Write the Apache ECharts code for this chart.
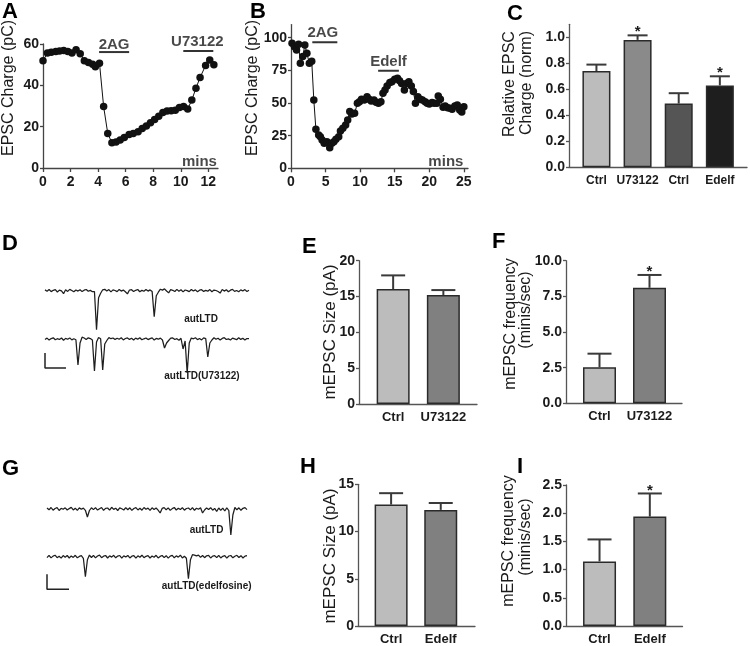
<!DOCTYPE html>
<html><head><meta charset="utf-8">
<script src="https://cdn.jsdelivr.net/npm/echarts@6/dist/echarts.min.js"></script>
<style>html,body{margin:0;padding:0;background:#fff}#c{width:750px;height:646px}</style>
</head><body><div id="c"></div>
<script>
// ---------- DATA ----------
// Panel A: time course (mins) and EPSC charge (pC)
const timeA = [0,0.32,0.6,0.93,1.2,1.5,1.8,2.1,2.4,2.7,3.0,3.3,3.6,3.8,4.1,4.4,4.7,5.0,5.3,5.6,5.9,6.25,6.55,6.9,7.2,7.5,7.8,8.1,8.4,8.7,9.0,9.3,9.6,9.9,10.2,10.5,10.8,11.1,11.4,11.8,12.1,12.4];
const chargeA = [51.9,55.6,56,56.4,56.6,56.9,56.4,55.6,57.2,55.3,51.9,51,50.2,49,50.7,29.7,16.7,12.2,12.6,13.5,14.7,16.2,16.7,17.5,19.1,20.3,21.9,23.5,25.1,26.9,27.6,27.7,28,29.3,29.7,28.5,32.9,38.6,43.8,49.6,52.3,49.9];
const ticksAx = [0,2,4,6,8,10,12];
const ticksAy = [0,20,40,60];
// drug application bars [start, end, level] and labels
const drugBarsA = [[4.07,6.25,56.1],[10.18,12.36,56.6]];
const drugLabelsA = [{name:'2AG', value:[5.16,59.6]},{name:'U73122', value:[11.2,61.2]},{name:'mins', value:[11.35,2.9]}];

// Panel B
const timeB = [0.15,0.5,0.8,1.1,1.35,1.7,2.0,2.3,2.65,3.0,3.3,3.6,4.0,4.25,4.5,4.8,5.2,5.6,5.9,6.2,6.5,6.9,7.15,7.5,7.9,8.2,8.5,8.8,9.2,9.6,9.9,10.2,10.6,11.0,11.3,11.6,12.0,12.3,12.65,13.0,13.3,13.6,13.9,14.3,14.6,15.0,15.4,15.7,16.0,16.4,16.7,17.05,17.4,17.7,18.0,18.35,18.7,19.0,19.4,19.7,20.0,20.4,20.7,21.1,21.3,21.6,22.0,22.3,22.65,23.0,23.3,23.7,24.05,24.4,24.7,25.0];
const chargeB = [95.7,93,90.6,95,80.4,85.5,94.4,88,80.4,82,52.3,29.8,25.5,24.2,21.7,19.1,20.4,15.8,19.1,20.4,22.2,24.2,28.6,30.6,33.2,37,43.4,41.6,42.1,49.7,51,52.8,52.3,54.8,52.8,51.5,52.3,50.5,49.7,51,57.4,59.9,63,65.6,66.3,68.1,68.9,67.1,65,59.9,65,66.3,63,58.7,49.7,54.8,52.8,52.3,51,49.7,49.2,50.3,49.7,49.7,55.4,52.8,46.7,47.7,46.4,45.9,45.2,47.7,48.5,44.6,43.1,47.2];
const ticksBx = [0,5,10,15,20,25];
const ticksBy = [0,25,50,75,100];
const drugBarsB = [[3.08,6.7,96.5],[12.6,15.6,74.7]];
const drugLabelsB = [{name:'2AG', value:[4.6,103.4]},{name:'Edelf', value:[14.1,81.6]},{name:'mins', value:[22.4,4.8]}];

// Panel C
const catsC = ['Ctrl','U73122','Ctrl','Edelf'];
const meanC = [0.74,0.98,0.49,0.63];
const semC = [0.05,0.035,0.08,0.07];
const sigC = [0,1,0,1];
const ticksCy = [0,0.2,0.4,0.6,0.8,1.0];

// Panels E, F (U73122)
const catsEF = ['Ctrl','U73122'];
const meanE = [16.05,15.2];
const semE = [1.9,0.7];
const sigE = [0,0];
const meanF = [2.52,8.1];
const semF = [0.96,0.9];
const sigF = [0,1];
// Panels H, I (Edelfosine)
const catsHI = ['Ctrl','Edelf'];
const meanH = [12.85,12.29];
const semH = [1.21,0.73];
const sigH = [0,0];
const meanI = [1.145,1.94];
const semI = [0.39,0.41];
const sigI = [0,1];

// Example current traces (pA, baseline 0, one sample per index)
const traceD1 = [0.8,-0.5,1.2,-0.9,0.4,1.1,-1.3,0.6,-0.2,-3.0, 0.9,-0.7,1.3,0.2,-1.1,0.7,-0.4,1.0,-0.9,0.5, 1.2,-0.6,0.3,-1.0,-0.8,-39,-7,-2.5,0.9,1.4, -0.3,1.1,-1.2,0.8,0.2,-0.9,1.3,-0.4,0.6,-1.1, -3.2,0.7,1.0,-0.8,0.4,1.2,-1.0,0.3,-0.6,1.1, -0.4,0.8,-0.9,-26,-5,-1.5,1.5,0.6,1.8,-0.3, -2.2,1.0,0.4,-0.8,1.3,-0.5,0.9,-1.2,0.7,0.1, -0.9,1.2,-0.3,0.8,-1.1,0.5,1.0,-0.7,0.3,-0.5, 1.1,-1.0,0.6,0.2,-0.8,-2.4,1.2,-0.4,0.9,-1.1, 0.5,1.3,-0.7,0.2,-1.0,0.8,-0.3,1.1,-0.8,0.4];
const traceD2 = [-0.6,0.9,-1.1,0.4,1.2,-0.8,0.3,-0.5,1.0,-1.2, 0.6,-0.3,1.1,-0.9,0.2,-0.7,-26,-4,1.8,1.0, -0.5,1.2,0.4,-1.0,-32,-3,1.5,0.2,-31,-5, -1.5,1.4,0.3,1.0,-0.6,0.8,-0.2,1.2,-0.9,0.5, 1.1,-0.4,0.7,-1.0,0.9,-0.3,1.3,-0.8,0.2,1.0, -0.6,0.4,1.2,-1.1,0.6,-0.2,0.9,-1.0,-9,-4, -1.5,0.8,1.1,-0.5,0.3,-1.2,0.7,-10,-2,-34, -4,1.0,0.2,1.3,-0.6,0.5,-0.9,1.1,0.4,-18, -4,-1.0,1.2,-0.3,0.8,-1.1,0.6,1.3,-0.5,0.2, -1.0,0.9,0.1,-0.7,1.2,-0.4,0.8,-1.0,0.5,0.3];
const traceG1 = [1.0,-0.8,1.5,-1.2,0.5,1.3,-1.5,0.7,-0.3,1.2, -1.0,0.4,1.6,-0.9,0.8,-1.4,1.1,-0.2,0.9,-1.3, -8,-1.5,1.2,-0.6,1.4,-1.1,0.3,1.5,-1.3,0.6, 1.0,-1.2,1.7,-0.4,0.8,-1.5,1.1,0.2,-1.0,1.4, -0.7,1.2,-1.4,0.5,1.3,-0.9,0.7,-1.2,1.5,-0.3, 0.9,-1.3,1.2,-0.5,1.0,-1.1,-4,0.6,1.4,-0.8, 1.1,-1.4,0.4,1.5,-1.0,0.8,-0.6,1.3,-1.2,0.5, 1.0,-0.9,1.4,-1.3,0.7,-0.2,1.2,-4,-1.0,1.1, -0.5,1.3,-1.2,0.6,-2.5,1.0,-1.4,0.9,-2.0,1.2, -1.5,-26,-6,1.5,-0.8,1.2,-1.3,0.7,1.4,-0.6];
const traceG2 = [-0.9,1.3,-1.2,0.6,1.5,-1.0,0.4,-1.4,1.1,-0.5, 1.2,-1.3,0.8,-0.7,1.4,-1.1,0.3,1.0,-1.6,-20, -3,1.6,-0.8,1.3,-1.2,0.7,1.5,-1.0,0.5,1.2, -1.3,0.9,-0.4,1.4,-1.1,0.6,1.2,-1.5,0.8,-0.3, 1.3,-1.2,0.5,1.0,-1.4,0.9,-0.6,1.5,-1.0,0.4, 1.1,-1.3,0.7,-0.5,1.4,-1.2,0.3,1.2,-0.9,1.0, -1.4,0.6,1.3,-1.1,0.8,-0.4,1.5,-1.2,0.5,-1.6, -22,-3,2.0,1.5,0.8,1.6,-0.7,1.2,-1.0,0.9, 1.4,-1.3,0.6,1.1,-0.9,1.3,-1.2,0.4,1.0,-1.4, 0.7,1.2,-1.1,0.5,1.4,-0.8,1.0,-1.3,0.6,1.1];
// calibration bars [index, pA]
const scaleBarD = [[0,-14],[0,-29],[10.2,-29]];
const scaleBarG = [[0,-17.6],[0,-32.6],[10.9,-32.6]];

// ---------- STYLE ----------
const FF = '"Liberation Sans", Arial, Helvetica, sans-serif';
const INK = '#1a1a1a';
const AX = '#444';
const colorsC = ['#bcbcbc','#8a8a8a','#555555','#1e1e1e'];
const colorsPair = ['#bcbcbc','#808080'];

const grids = [], xAxes = [], yAxes = [], series = [];

function addGrid(g) { grids.push(g); return grids.length - 1; }

function tickLabel(extra) {
  return Object.assign({fontSize: 14, fontWeight: 'bold', color: INK, fontFamily: FF}, extra || {});
}

function timePanel(g, xmax, xt, ymax, yt, time, vals, bars, labels) {
  const k = addGrid(g);
  xAxes.push({gridIndex:k, type:'value', min:0, max:xmax,
    axisLine:{show:true, onZero:false, lineStyle:{color:AX, width:1.3}},
    axisTick:{show:true, length:4, customValues:xt, lineStyle:{color:AX, width:1.3}},
    axisLabel:tickLabel({customValues:xt, margin:7}), splitLine:{show:false}});
  yAxes.push({gridIndex:k, type:'value', min:0, max:ymax,
    axisLine:{show:true, onZero:false, lineStyle:{color:AX, width:1.3}},
    axisTick:{show:true, length:3, customValues:yt, lineStyle:{color:AX, width:1.3}},
    axisLabel:tickLabel({customValues:yt, margin:4}), splitLine:{show:false}});
  series.push({type:'line', xAxisIndex:k, yAxisIndex:k, data: time.map((t,i)=>[t, vals[i]]),
    symbol:'circle', symbolSize:7.5, showAllSymbol:true, itemStyle:{color:'#111'},
    lineStyle:{color:'#111', width:1}, silent:true, z:3});
  bars.forEach(b => series.push({type:'line', xAxisIndex:k, yAxisIndex:k, data:[[b[0],b[2]],[b[1],b[2]]],
    symbol:'none', lineStyle:{color:'#333', width:2}, silent:true, clip:false}));
  series.push({type:'scatter', xAxisIndex:k, yAxisIndex:k, data:labels, symbolSize:1, clip:false,
    itemStyle:{color:'rgba(0,0,0,0)'}, silent:true,
    label:{show:true, position:'inside', formatter:'{b}', fontSize:15, fontWeight:'bold', color:INK, fontFamily:FF}});
}

function barPanel(g, cats, mean, sem, sig, colors, ymax, yt, dec, xmin, xmax, bw, capW, catSize) {
  const k = addGrid(g);
  const idx = cats.map((c,i)=>i);
  xAxes.push({gridIndex:k, type:'value', min:xmin, max:xmax,
    axisLine:{show:true, onZero:false, lineStyle:{color:'#555', width:1.3}},
    axisTick:{show:false},
    axisLabel:tickLabel({customValues:idx, margin:7, fontSize:catSize, formatter:v=>cats[Math.round(v)]}),
    splitLine:{show:false}});
  yAxes.push({gridIndex:k, type:'value', min:0, max:ymax,
    axisLine:{show:true, onZero:false, lineStyle:{color:'#555', width:1.3}},
    axisTick:{show:true, length:3, customValues:yt, lineStyle:{color:'#555', width:1.3}},
    axisLabel:tickLabel({customValues:yt, margin:4, formatter:v=>v.toFixed(dec)}), splitLine:{show:false}});
  series.push({type:'bar', xAxisIndex:k, yAxisIndex:k, barWidth:bw, silent:true,
    data: mean.map((v,i)=>({value:[i,v], itemStyle:{color:colors[i], borderColor:'#2a2a2a', borderWidth:1.5}}))});
  series.push({type:'custom', xAxisIndex:k, yAxisIndex:k, silent:true, z:4,
    data: mean.map((v,i)=>[i, v, sem[i], sig[i]]),
    encode:{x:0, y:1},
    renderItem:(params, api)=>{
      const x = api.value(0), v = api.value(1), e = api.value(2), s = api.value(3);
      const p0 = api.coord([x, v]), p1 = api.coord([x, v+e]);
      const st = {stroke:'#3a3a3a', lineWidth:2};
      const ch = [
        {type:'line', shape:{x1:p0[0], y1:p0[1], x2:p1[0], y2:p1[1]}, style:st},
        {type:'line', shape:{x1:p1[0]-capW/2, y1:p1[1], x2:p1[0]+capW/2, y2:p1[1]}, style:st}
      ];
      if (s) ch.push({type:'text', x:p1[0], y:p1[1]-3, style:{text:'*', textAlign:'center', textVerticalAlign:'middle', font:'bold 15px '+FF, fill:INK}});
      return {type:'group', children:ch};
    }});
}

function tracePanel(g, trace, bar) {
  const k = addGrid(g);
  xAxes.push({gridIndex:k, type:'value', min:0, max:trace.length-1, show:false});
  yAxes.push({gridIndex:k, type:'value', min:-45, max:5, show:false});
  series.push({type:'line', xAxisIndex:k, yAxisIndex:k, data: trace.map((v,i)=>[i,v]), symbol:'none',
    lineStyle:{color:'#1e1e1e', width:1.25}, silent:true, clip:false});
  if (bar) series.push({type:'line', xAxisIndex:k, yAxisIndex:k, data: bar, symbol:'none',
    lineStyle:{color:'#222', width:1.5}, silent:true, clip:false});
}

// ---------- PANELS ----------
timePanel({left:43, top:44, width:175, height:124}, 12.7, ticksAx, 60, ticksAy, timeA, chargeA, drugBarsA, drugLabelsA);
timePanel({left:291, top:24.6, width:177, height:143.7}, 25.6, ticksBx, 110, ticksBy, timeB, chargeB, drugBarsB, drugLabelsB);
barPanel({left:569, top:24.3, width:178, height:143}, catsC, meanC, semC, sigC, colorsC, 1.1, ticksCy, 1, -0.667, 3.66, 28, 20, 12);
tracePanel({left:45, top:285.7, width:204, height:50}, traceD1, null);
tracePanel({left:45, top:334, width:204, height:50}, traceD2, scaleBarD);
barPanel({left:359, top:260.7, width:118, height:143.3}, catsEF, meanE, semE, sigE, colorsPair, 20, [0,5,10,15,20], 0, -0.68, 1.67, 33, 24, 13);
barPanel({left:566, top:260.7, width:116, height:142.6}, catsEF, meanF, semF, sigF, colorsPair, 10, [0,2.5,5,7.5,10], 1, -0.67, 1.65, 33, 24, 13);
tracePanel({left:47, top:504, width:200, height:50}, traceG1, null);
tracePanel({left:47, top:551.7, width:200, height:50}, traceG2, scaleBarG);
barPanel({left:358, top:484.3, width:117, height:144}, catsHI, meanH, semH, sigH, colorsPair, 15, [0,5,10,15], 0, -0.667, 1.69, 33, 24, 13);
barPanel({left:566, top:485, width:116.5, height:143.3}, catsHI, meanI, semI, sigI, colorsPair, 2.5, [0,0.5,1,1.5,2,2.5], 1, -0.667, 1.65, 33, 24, 13);

// ---------- TEXT ----------
function letter(t, x, y) { return {type:'text', x:x, y:y, silent:true, style:{text:t, font:'bold 22px '+FF, fill:'#000', textAlign:'left', textVerticalAlign:'top'}}; }
function vtitle(t, x, y, size) { return {type:'text', x:x, y:y, rotation:Math.PI/2, silent:true, style:{text:t, font:(size||16)+'px '+FF, fill:INK, textAlign:'center', textVerticalAlign:'middle'}}; }
function note(t, x, y) { return {type:'text', x:x, y:y, silent:true, style:{text:t, font:'bold 10px '+FF, fill:INK, textAlign:'center', textVerticalAlign:'middle'}}; }

const graphic = [
  letter('A',2,1), letter('B',250,1), letter('C',507,3),
  letter('D',2,233), letter('E',302,236), letter('F',492,231),
  letter('G',2,458), letter('H',300,456), letter('I',517,456),
  vtitle('EPSC Charge (pC)', 9, 88), vtitle('EPSC Charge (pC)', 253, 88),
  vtitle('Relative EPSC', 509.5, 84), vtitle('Charge (norm)', 526.5, 83),
  vtitle('mEPSC Size (pA)', 330, 332, 17), vtitle('mEPSC Size (pA)', 330, 556, 17),
  vtitle('mEPSC frequency', 510.5, 324), vtitle('(minis/sec)', 526, 310),
  vtitle('mEPSC frequency', 509, 541), vtitle('(minis/sec)', 526, 537),
  note('autLTD', 201, 319), note('autLTD(U73122)', 202, 376),
  note('autLTD', 206.5, 530), note('autLTD(edelfosine)', 206.7, 586)
];

const chart = echarts.init(document.getElementById('c'), null, {renderer:'canvas'});
chart.setOption({
  animation:false, backgroundColor:'#fff',
  grid: grids, xAxis: xAxes, yAxis: yAxes, series: series, graphic: graphic
});
</script></body></html>
